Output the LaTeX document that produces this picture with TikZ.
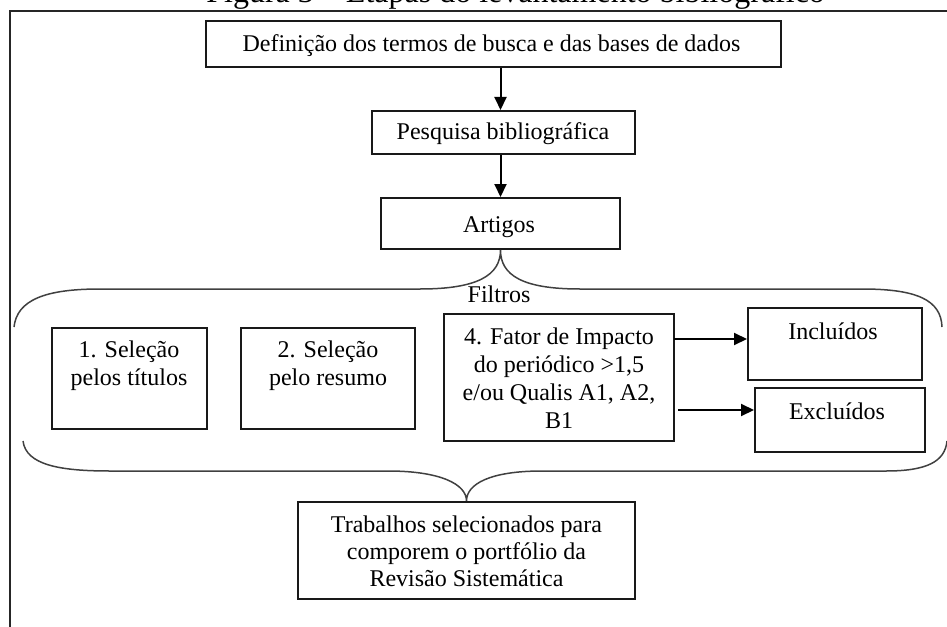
\documentclass[tikz,border=0pt]{standalone}
\usepackage{fontspec}
\setmainfont{Liberation Serif}
\usetikzlibrary{arrows.meta,fit,calc}

\begin{document}
\begin{tikzpicture}[x=0.5pt,y=-0.5pt,
  box/.style={draw=black!90, line width=1pt, inner sep=0pt},
  txt/.style={inner sep=0pt, align=center, font=\fontsize{12}{14}\selectfont},
  arr/.style={draw=black, line width=1pt, -{Triangle[length=6.5pt,width=6pt]}},
  brace/.style={draw=black!75, line width=0.75pt},
  frame/.style={draw=black!85, line width=0.9pt}]

  \useasboundingbox (0,0) rectangle (947,626);
  \clip (0,0) rectangle (947,626);

  % caption above the frame
  \node[anchor=base west, inner sep=0pt, font=\fontsize{16}{19}\selectfont]
    (title) at (206,2.5) {Figura 3 – Etapas do levantamento bibliográfico};

  % outer frame
  \draw[frame] (10,11) rectangle (990,680);

  % main chain
  \node[box, fit={(206,21) (781,67)}] (def) {};
  \node[txt, anchor=base] (deft) at (491.5,51.5) {Definição dos termos de busca e das bases de dados};
  \node[box, fit={(372,111) (635,154)}] (pesq) {};
  \node[txt, anchor=base] (pesqt) at (503,139.5) {Pesquisa bibliográfica};
  \node[box, fit={(381,198) (620,249)}] (art) {};
  \node[txt, anchor=base] (artt) at (499,232.5) {Artigos};

  \draw[arr] (art.north |- def.south) -- (art.north |- pesq.north);
  \draw[arr] (art.north |- pesq.south) -- (art.north);

  % filter boxes
  \node[box, fit={(52,328) (207,429)}] (sel1) {};
  \node[txt] (sel1t) at (129,366) {1. Seleção\\pelos títulos};
  \node[box, fit={(241,328) (415,429)}] (sel2) {};
  \node[txt] (sel2t) at (328,366) {2. Seleção\\pelo resumo};
  \node[box, fit={(444,314) (674,441)}] (fat) {};
  \node[txt] (fatt) at (559,378) {4. Fator de Impacto\\do periódico >1,5\\e/ou Qualis A1, A2,\\B1};
  \node[box, fit={(748,308) (922,380)}] (inc) {};
  \node[txt] (inct) at (833,331) {Incluídos};
  \node[box, fit={(755,388) (925,452)}] (exc) {};
  \node[txt] (exct) at (837,411) {Excluídos};

  \node[txt] (filt) at (499,294) {Filtros};

  % filter outcome arrows
  \coordinate (a1s) at (674,339);
  \coordinate (a2s) at (678,410);
  \draw[arr] (a1s) -- (inc.west |- a1s);
  \draw[arr] (a2s) -- (exc.west |- a2s);

  % final box
  \node[box, fit={(298,502) (635,599)}] (fin) {};
  \node[txt, font=\fontsize{12}{13.5}\selectfont] (fint) at (466.5,551)
    {Trabalhos selecionados para\\comporem o portfólio da\\Revisão Sistemática};

  % upper brace, opening from the Artigos box
  \draw[brace] (14,327) .. controls (17,300) and (45,289) .. (100,289)
    -- (420,289) .. controls (478,289) and (art.south |- 0,275) .. (art.south)
    .. controls (art.south |- 0,275) and (522,289) .. (580,289)
    -- (862,289) .. controls (917,289) and (941,300) .. (942,327);

  % lower brace, closing onto the final box
  \draw[brace] (23,441) .. controls (26,465) and (60,471) .. (110,471)
    -- (388,471) .. controls (440,471) and (fin.north |- 0,484) .. (fin.north)
    .. controls (fin.north |- 0,484) and (490,471) .. (542,471)
    -- (886,471) .. controls (926,471) and (945,462) .. (947,441);
\end{tikzpicture}
\end{document}
